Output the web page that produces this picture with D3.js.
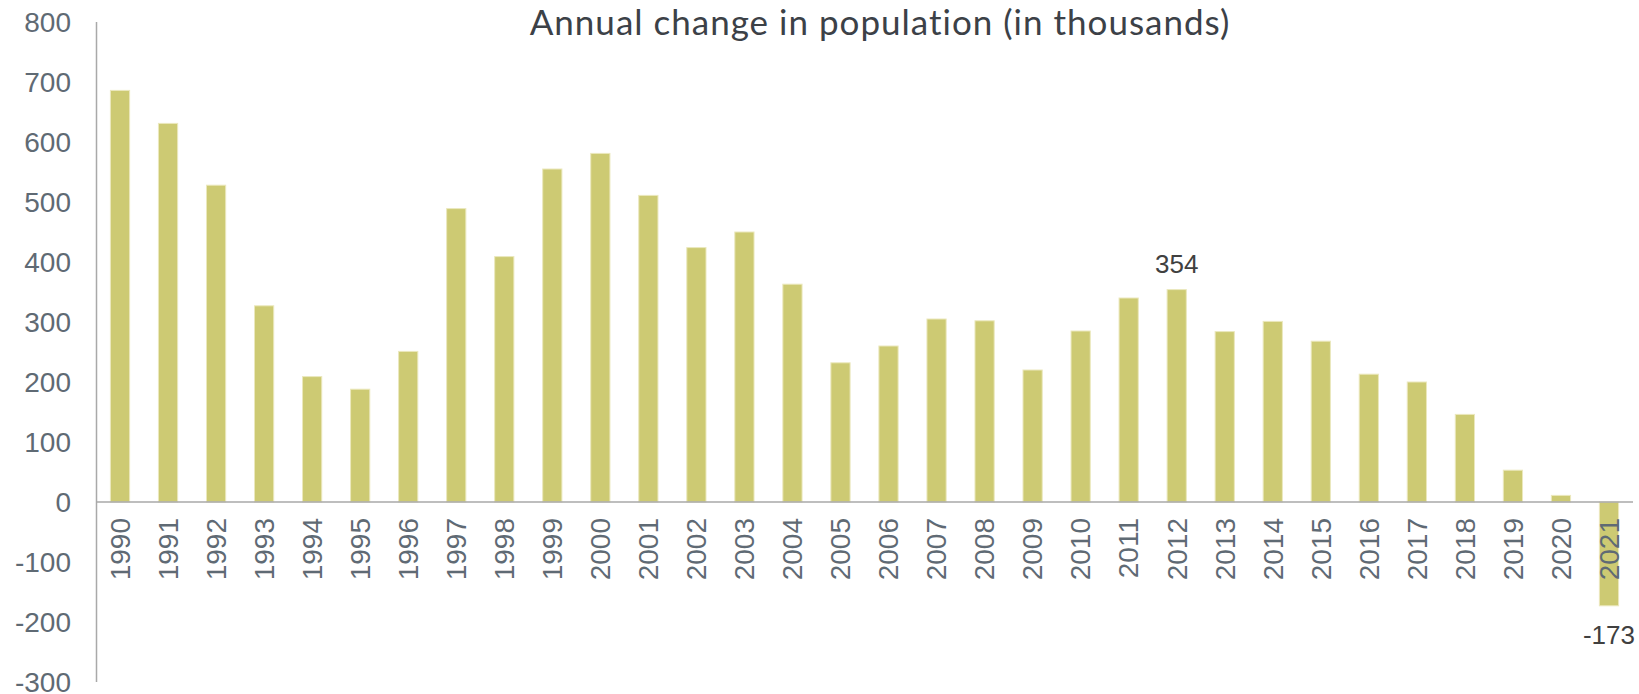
<!DOCTYPE html>
<html>
<head>
<meta charset="utf-8">
<script src="https://cdn.jsdelivr.net/npm/d3@7"></script>
<style>
  html, body { margin: 0; padding: 0; background: #ffffff; }
  svg { display: block; }
</style>
</head>
<body>
<svg id="chart" width="1639" height="694"></svg>
<script>
const years = ["1990","1991","1992","1993","1994","1995","1996","1997","1998","1999","2000","2001","2002","2003","2004","2005","2006","2007","2008","2009","2010","2011","2012","2013","2014","2015","2016","2017","2018","2019","2020","2021"];
const changes = [686, 631, 528, 327, 209, 188, 251, 489, 409, 555, 581, 511, 424, 450, 363, 232, 260, 305, 302, 220, 285, 340, 354, 284, 301, 268, 213, 200, 146, 53, 11, -173];
const yTicks = [-300, -200, -100, 0, 100, 200, 300, 400, 500, 600, 700, 800];
const labelledYears = ["2012", "2021"];
const titleText = "Annual change in population (in thousands)";

(function () {
const svg = d3.select("#chart");
const plotLeft = 96, plotRight = 1633, plotTop = 22, plotBottom = 682;
const fmt = d => String(d);

const x = d3.scaleBand().domain(years).range([plotLeft, plotRight]).paddingInner(0.6).paddingOuter(0.3);
const y = d3.scaleLinear().domain([-300, 800]).range([plotBottom, plotTop]);

// title
svg.append("text")
  .attr("x", 880).attr("y", 35)
  .attr("text-anchor", "middle")
  .attr("font-family", "Lato, 'Open Sans', sans-serif")
  .attr("font-size", 35)
  .attr("letter-spacing", 1)
  .attr("fill", "#3c4147")
  .text(titleText);

// bars
svg.append("g").selectAll("rect")
  .data(years.map((yr, i) => ({ yr, v: changes[i] })))
  .join("rect")
  .attr("x", d => x(d.yr))
  .attr("width", x.bandwidth())
  .attr("y", d => y(Math.max(0, d.v)))
  .attr("height", d => Math.abs(y(d.v) - y(0)))
  .attr("fill", "#cdca73")
  .attr("stroke", "#ebe8bd")
  .attr("stroke-width", 1);

// y axis labels
const yAxis = d3.axisLeft(y).tickValues(yTicks).tickSize(0).tickPadding(0).tickFormat(fmt);
const gy = svg.append("g").attr("transform", "translate(71,0)").call(yAxis);
gy.select(".domain").remove();
gy.selectAll("text")
  .attr("font-family", "'Liberation Sans', Arial, sans-serif")
  .attr("font-size", 28)
  .attr("fill", "#5f6a74")
  .attr("dy", "0.35em");

// y axis line
svg.append("line")
  .attr("x1", plotLeft + 0.5).attr("x2", plotLeft + 0.5)
  .attr("y1", y(800)).attr("y2", y(-300))
  .attr("stroke", "#a9a9a9").attr("stroke-width", 1.5);

// zero line
svg.append("line")
  .attr("x1", plotLeft).attr("x2", plotRight)
  .attr("y1", y(0)).attr("y2", y(0))
  .attr("stroke", "#a9a9a9").attr("stroke-width", 1.5);

// x axis labels (rotated)
const xAxis = d3.axisBottom(x).tickSize(0).tickPadding(0);
const gx = svg.append("g").attr("transform", `translate(0,${y(0)})`).call(xAxis);
gx.select(".domain").remove();
gx.selectAll("text")
  .attr("font-family", "'Liberation Sans', Arial, sans-serif")
  .attr("font-size", 28)
  .attr("fill", "#5f6a74")
  .attr("text-anchor", "end")
  .attr("transform", "rotate(-90)")
  .attr("x", -16)
  .attr("y", 0)
  .attr("dy", "0.35em");

// data labels
svg.append("g").selectAll("text")
  .data(years.map((yr, i) => ({ yr, v: changes[i] })).filter(d => labelledYears.includes(d.yr)))
  .join("text")
  .attr("x", d => x(d.yr) + x.bandwidth() / 2)
  .attr("y", d => d.v >= 0 ? y(d.v) - 17 : y(d.v) + 38)
  .attr("text-anchor", "middle")
  .attr("font-family", "'Liberation Sans', Arial, sans-serif")
  .attr("font-size", 26)
  .attr("fill", "#404040")
  .text(d => fmt(d.v));
})();
</script>
</body>
</html>
